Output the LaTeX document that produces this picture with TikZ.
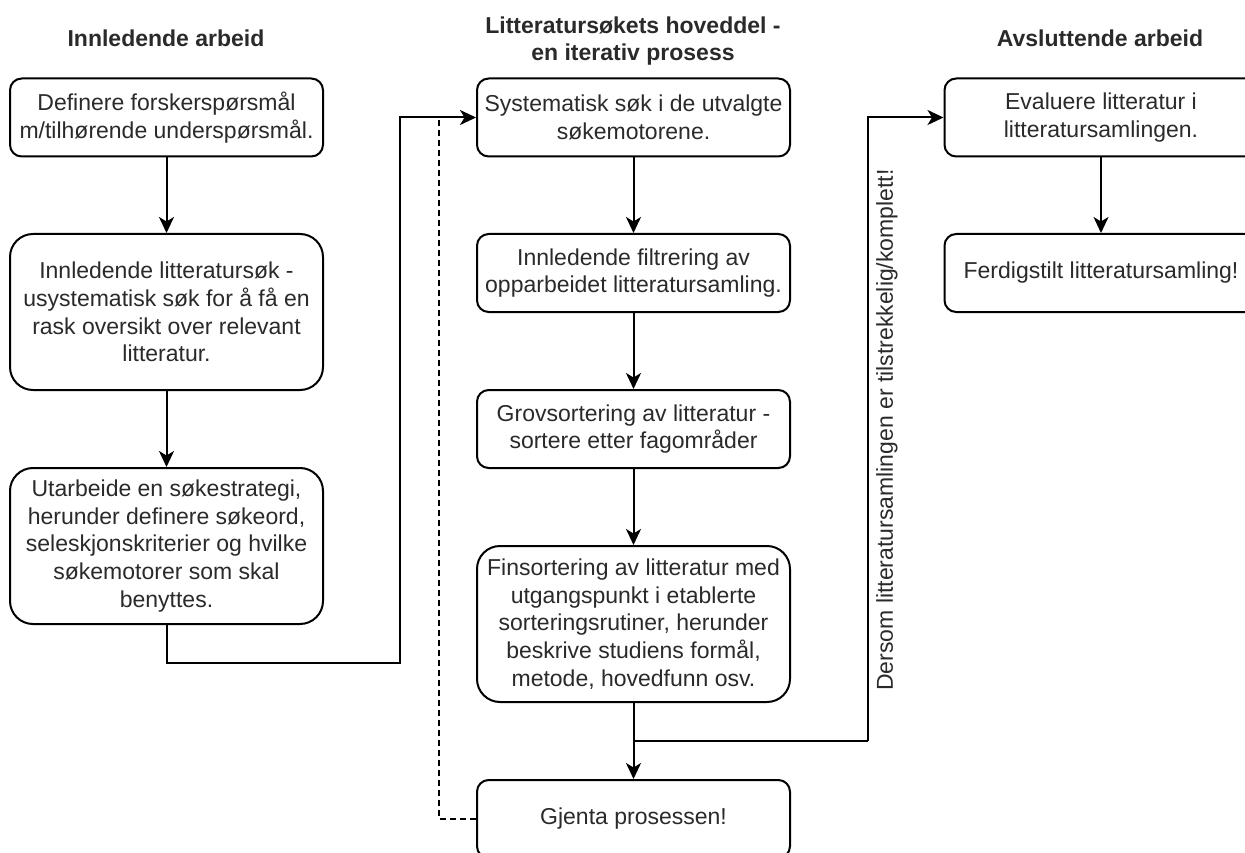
\documentclass[tikz,border=0pt]{standalone}
\usepackage{fontspec}
\setmainfont{Liberation Sans}
\usetikzlibrary{arrows.meta}

\definecolor{inkgray}{HTML}{2A2A2A}

\tikzset{
  txt/.style={font=\fontsize{23}{27.6}\selectfont, text=inkgray, align=center},
  hdr/.style={font=\fontsize{23}{27.6}\selectfont\bfseries, text=inkgray, align=center},
  flowbox/.style={txt, draw=black, line width=2pt, fill=white,
    minimum width=313pt, inner sep=2pt},
  shortbox/.style={flowbox, minimum height=78pt, rounded corners=11.7pt},
  tallbox/.style={flowbox, minimum height=156pt, rounded corners=23pt},
  link/.style={draw=black, line width=2pt,
    -{Stealth[length=16pt, width=15pt, inset=4.5pt]}},
  plainlink/.style={draw=black, line width=2pt},
  backlink/.style={draw=black, line width=1.6pt, dash pattern=on 6pt off 4pt},
}

\begin{document}
\begin{tikzpicture}[x=1pt, y=-1pt]
  \useasboundingbox (0,0) rectangle (1245,853);

  % column headings
  \node[hdr] (h1) at (166,38) {Innledende arbeid};
  \node[hdr] (h2) at (633,41) {Litteratursøkets hoveddel -\\en iterativ prosess};
  \node[hdr] (h3) at (1100,38) {Avsluttende arbeid};

  % preparatory work
  \node[shortbox] (b1) at (166.5,117.5) {Definere forskerspørsmål\\m/tilhørende underspørsmål.};
  \node[tallbox]  (b2) at (166.5,312) {Innledende litteratursøk -\\usystematisk søk for å få en\\rask oversikt over relevant\\litteratur.};
  \node[tallbox]  (b3) at (166.5,546) {Utarbeide en søkestrategi,\\herunder definere søkeord,\\seleskjonskriterier og hvilke\\søkemotorer som skal\\benyttes.};

  % main iterative search
  \node[shortbox] (m1) at (633.5,117.5) {Systematisk søk i de utvalgte\\søkemotorene.};
  \node[shortbox] (m2) at (633.5,273) {Innledende filtrering av\\opparbeidet litteratursamling.};
  \node[shortbox] (m3) at (633.5,429) {Grovsortering av litteratur -\\sortere etter fagområder};
  \node[tallbox]  (m4) at (633.5,624) {Finsortering av litteratur med\\utgangspunkt i etablerte\\sorteringsrutiner, herunder\\beskrive studiens formål,\\metode, hovedfunn osv.};
  \node[shortbox] (m5) at (633.5,819) {Gjenta prosessen!};

  % concluding work
  \node[shortbox] (r1) at (1101,117.5) {Evaluere litteratur i\\litteratursamlingen.};
  \node[shortbox] (r2) at (1101,273) {Ferdigstilt litteratursamling!};

  % routing points
  \coordinate (jl) at (400,663);
  \coordinate (dtop) at (439,117.5);
  \coordinate (jm) at (633.5,741);
  \coordinate (jr) at (868,741);

  % connectors
  \draw[link] (b1) -- (b2);
  \draw[link] (b2) -- (b3);
  \draw[link] (b3.south) |- (jl) |- (m1.west);
  \draw[backlink] (m5.west) -| (dtop);
  \draw[link] (m1) -- (m2);
  \draw[link] (m2) -- (m3);
  \draw[link] (m3) -- (m4);
  \draw[link] (m4) -- (m5);
  \draw[plainlink] (jm) -- (jr);
  \draw[link] (jr) |- (r1.west);
  \draw[link] (r1) -- (r2);

  \node[txt, rotate=90] (cond) at (887,430) {Dersom litteratursamlingen er tilstrekkelig/komplett!};
\end{tikzpicture}
\end{document}
